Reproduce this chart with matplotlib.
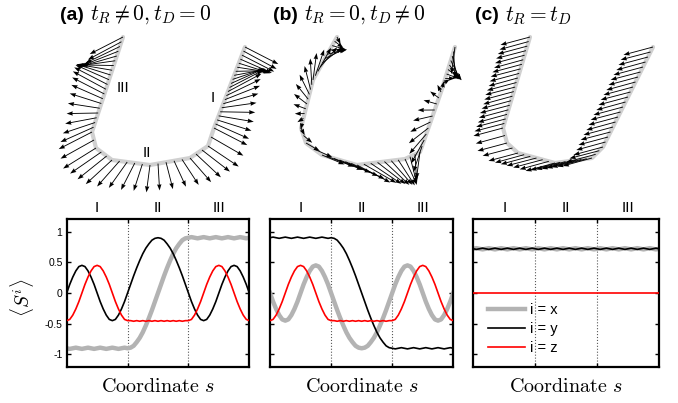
import numpy as np
import matplotlib
matplotlib.use("Agg")
import matplotlib.pyplot as plt

plt.rcParams['font.family'] = ['Liberation Sans', 'DejaVu Sans']
plt.rcParams['mathtext.fontset'] = 'cm'
plt.rcParams['axes.unicode_minus'] = False

# ---------------- data ----------------
s = np.round(np.arange(61) * 0.05, 2)          # coordinate along the wire (3 regions)
region_labels = ['I', 'II', 'III']
region_centers = [0.5, 1.5, 2.5]
yticks = [-1, -0.5, 0, 0.5, 1]
ytick_labels = ['-1', '-0.5', '0', '0.5', '1']
titles_bold = ['(a)', '(b)', '(c)']
titles_math = [r'$t_R \neq 0, t_D = 0$', r'$t_R = 0, t_D \neq 0$', r'$t_R = t_D$']
legend_labels = ['i = x', 'i = y', 'i = z']

# panel (a): t_R != 0, t_D = 0
sx_a = [-0.90, -0.91, -0.90, -0.89, -0.90, -0.91, -0.90, -0.89, -0.90, -0.91, -0.90,
        -0.89, -0.90, -0.91, -0.90, -0.89, -0.90, -0.91, -0.90, -0.89, -0.90,
        -0.89, -0.86, -0.80, -0.73, -0.64, -0.53, -0.41, -0.28, -0.14, 0.00,
        0.14, 0.28, 0.41, 0.53, 0.64, 0.73, 0.80, 0.86, 0.89, 0.90,
        0.91, 0.90, 0.89, 0.90, 0.91, 0.90, 0.89, 0.90, 0.91, 0.90,
        0.89, 0.90, 0.91, 0.90, 0.89, 0.90, 0.91, 0.90, 0.89, 0.90]
sy_a = [0.00, 0.14, 0.26, 0.36, 0.43, 0.45, 0.43, 0.36, 0.26, 0.14, 0.00,
        -0.14, -0.26, -0.36, -0.43, -0.45, -0.43, -0.36, -0.26, -0.14, 0.00,
        0.14, 0.28, 0.41, 0.53, 0.64, 0.73, 0.80, 0.86, 0.89, 0.90,
        0.89, 0.86, 0.80, 0.73, 0.64, 0.53, 0.41, 0.28, 0.14, 0.00,
        -0.14, -0.26, -0.36, -0.43, -0.45, -0.43, -0.36, -0.26, -0.14, 0.00,
        0.14, 0.26, 0.36, 0.43, 0.45, 0.43, 0.36, 0.26, 0.14, 0.00]
sz_a = [-0.45, -0.43, -0.36, -0.26, -0.14, 0.00, 0.14, 0.26, 0.36, 0.43, 0.45,
        0.43, 0.36, 0.26, 0.14, 0.00, -0.14, -0.26, -0.36, -0.43, -0.45,
        -0.45, -0.46, -0.45, -0.46, -0.45, -0.46, -0.45, -0.46, -0.45, -0.46,
        -0.45, -0.46, -0.45, -0.46, -0.45, -0.46, -0.45, -0.46, -0.45, -0.45,
        -0.43, -0.36, -0.26, -0.14, 0.00, 0.14, 0.26, 0.36, 0.43, 0.45,
        0.43, 0.36, 0.26, 0.14, 0.00, -0.14, -0.26, -0.36, -0.43, -0.45]

# panel (b): t_R = 0, t_D != 0
sx_b = [0.00, -0.14, -0.26, -0.36, -0.43, -0.45, -0.43, -0.36, -0.26, -0.14, 0.00,
        0.14, 0.26, 0.36, 0.43, 0.45, 0.43, 0.36, 0.26, 0.14, 0.00,
        -0.14, -0.28, -0.41, -0.53, -0.64, -0.73, -0.80, -0.86, -0.89, -0.90,
        -0.89, -0.86, -0.80, -0.73, -0.64, -0.53, -0.41, -0.28, -0.14, 0.00,
        0.14, 0.26, 0.36, 0.43, 0.45, 0.43, 0.36, 0.26, 0.14, 0.00,
        -0.14, -0.26, -0.36, -0.43, -0.45, -0.43, -0.36, -0.26, -0.14, 0.00]
sy_b = [0.90, 0.91, 0.90, 0.89, 0.90, 0.91, 0.90, 0.89, 0.90, 0.91, 0.90,
        0.89, 0.90, 0.91, 0.90, 0.89, 0.90, 0.91, 0.90, 0.89, 0.90,
        0.89, 0.86, 0.80, 0.73, 0.64, 0.53, 0.41, 0.28, 0.14, 0.00,
        -0.14, -0.28, -0.41, -0.53, -0.64, -0.73, -0.80, -0.86, -0.89, -0.90,
        -0.91, -0.90, -0.89, -0.90, -0.91, -0.90, -0.89, -0.90, -0.91, -0.90,
        -0.89, -0.90, -0.91, -0.90, -0.89, -0.90, -0.91, -0.90, -0.89, -0.90]
sz_b = [-0.45, -0.43, -0.36, -0.26, -0.14, 0.00, 0.14, 0.26, 0.36, 0.43, 0.45,
        0.43, 0.36, 0.26, 0.14, 0.00, -0.14, -0.26, -0.36, -0.43, -0.45,
        -0.45, -0.46, -0.45, -0.46, -0.45, -0.46, -0.45, -0.46, -0.45, -0.46,
        -0.45, -0.46, -0.45, -0.46, -0.45, -0.46, -0.45, -0.46, -0.45, -0.45,
        -0.43, -0.36, -0.26, -0.14, 0.00, 0.14, 0.26, 0.36, 0.43, 0.45,
        0.43, 0.36, 0.26, 0.14, 0.00, -0.14, -0.26, -0.36, -0.43, -0.45]

# panel (c): t_R = t_D
sx_c = [0.72, 0.73, 0.72, 0.71, 0.72, 0.73, 0.72, 0.71, 0.72, 0.73, 0.72,
        0.71, 0.72, 0.73, 0.72, 0.71, 0.72, 0.73, 0.72, 0.71, 0.72,
        0.73, 0.72, 0.71, 0.72, 0.73, 0.72, 0.71, 0.72, 0.73, 0.72,
        0.71, 0.72, 0.73, 0.72, 0.71, 0.72, 0.73, 0.72, 0.71, 0.72,
        0.73, 0.72, 0.71, 0.72, 0.73, 0.72, 0.71, 0.72, 0.73, 0.72,
        0.71, 0.72, 0.73, 0.72, 0.71, 0.72, 0.73, 0.72, 0.71, 0.72]
sy_c = [0.72, 0.71, 0.72, 0.73, 0.72, 0.71, 0.72, 0.73, 0.72, 0.71, 0.72,
        0.73, 0.72, 0.71, 0.72, 0.73, 0.72, 0.71, 0.72, 0.73, 0.72,
        0.71, 0.72, 0.73, 0.72, 0.71, 0.72, 0.73, 0.72, 0.71, 0.72,
        0.73, 0.72, 0.71, 0.72, 0.73, 0.72, 0.71, 0.72, 0.73, 0.72,
        0.71, 0.72, 0.73, 0.72, 0.71, 0.72, 0.73, 0.72, 0.71, 0.72,
        0.73, 0.72, 0.71, 0.72, 0.73, 0.72, 0.71, 0.72, 0.73, 0.72]
sz_c = [0.00] * 61

# wire geometry (projected U-shaped wire, knots along coordinate s)
wire_a_s = [0.0, 1.0, 1.1, 1.25, 1.5, 1.75, 1.9, 2.0, 3.0]
wire_a_x = [245, 214, 208, 190, 150, 112, 96, 92, 123]
wire_a_y = [47, 128, 146, 158, 165, 160, 148, 132, 37]
wire_b_s = [0.0, 0.5, 1.0, 1.15, 1.5, 1.8, 1.9, 2.0, 2.5, 3.0]
wire_b_x = [455, 441, 420, 405, 357, 322, 306, 301, 313, 337]
wire_b_y = [47, 92, 152, 159, 165, 155, 143, 128, 80, 37]
wire_c_s = [0.0, 1.0, 1.15, 1.5, 1.8, 1.9, 2.0, 3.0]
wire_c_x = [653, 603, 592, 555, 518, 507, 503, 530]
wire_c_y = [47, 147, 158, 163, 153, 143, 128, 37]

panels = [
    (sx_a, sy_a, sz_a, wire_a_s, wire_a_x, wire_a_y),
    (sx_b, sy_b, sz_b, wire_b_s, wire_b_x, wire_b_y),
    (sx_c, sy_c, sz_c, wire_c_s, wire_c_x, wire_c_y),
]

# ---------------- figure ----------------
W, H = 678, 403
fig = plt.figure(figsize=(W / 100, H / 100), dpi=100)

# overlay axes in pixel coordinates for the 3D-like spin textures
ax_top = fig.add_axes([0, 0, 1, 1])
ax_top.set_xlim(0, W)
ax_top.set_ylim(H, 0)
ax_top.axis('off')
ax_top.patch.set_alpha(0)

# view projection of spin vector (Sx, Sy, Sz) onto the picture plane (pixels)
PX = (-37.0, -4.0, 0.0)
PY = (0.0, 11.0, -38.0)

for (sx, sy, sz, ws, wx, wy) in panels:
    sx = np.array(sx); sy = np.array(sy); sz = np.array(sz)
    px = np.interp(s, ws, wx)
    py = np.interp(s, ws, wy)
    ax_top.plot(px, py, color='#d0d0d0', lw=3.0, solid_capstyle='round', zorder=1)
    U = PX[0] * sx + PX[1] * sy + PX[2] * sz
    V = PY[0] * sx + PY[1] * sy + PY[2] * sz
    ax_top.quiver(px, py, U, V, angles='xy', scale_units='xy', scale=1,
                  color='k', width=0.0013, headwidth=5, headlength=7,
                  headaxislength=6.5, zorder=2)

# region labels on panel (a) picture
ax_top.text(123, 88, 'III', fontsize=11, ha='center', va='center')
ax_top.text(213, 98, 'I', fontsize=11, ha='center', va='center')
ax_top.text(147, 153, 'II', fontsize=11, ha='center', va='center')

# titles
title_pos = [(60, 15), (273, 15), (475, 15)]
for (tx, ty), tb, tm in zip(title_pos, titles_bold, titles_math):
    t1 = fig.text(tx / W, 1 - ty / H, tb, fontsize=14, fontweight='bold',
                  ha='left', va='center')
    fig.canvas.draw()
    bb = t1.get_window_extent()
    fig.text((bb.x1 + 6) / W, 1 - ty / H, tm, fontsize=15.5, ha='left', va='center')

# bottom line plots
axes_px = [(66.7, 249.3), (270.0, 453.3), (473.3, 659.0)]
top_px, bot_px = 219.3, 366.7
for i, ((x0, x1), (sx, sy, sz, _, _, _)) in enumerate(zip(axes_px, panels)):
    ax = fig.add_axes([x0 / W, (H - bot_px) / H, (x1 - x0) / W, (bot_px - top_px) / H])
    ax.axvline(1, color='0.35', ls=':', lw=0.8, zorder=0)
    ax.axvline(2, color='0.35', ls=':', lw=0.8, zorder=0)
    ax.plot(s, sx, color='#b3b3b3', lw=3.2, label=legend_labels[0], zorder=2)
    ax.plot(s, sy, color='k', lw=1.2, label=legend_labels[1], zorder=3)
    ax.plot(s, sz, color='#ff0000', lw=1.2, label=legend_labels[2], zorder=4)
    ax.set_xlim(0, 3)
    ax.set_ylim(-1.2, 1.2)
    ax.set_xticks([1, 2])
    ax.set_yticks(yticks)
    ax.set_yticklabels(ytick_labels)
    ax.tick_params(direction='in', length=3, width=1, top=True, right=True,
                   labelbottom=False, labelleft=(i == 0), labelsize=7.5, pad=3)
    for sp in ax.spines.values():
        sp.set_linewidth(1.6)
    for c, lab in zip(region_centers, region_labels):
        ax.text(c, 1.075, lab, transform=ax.get_xaxis_transform(),
                fontsize=11, ha='center', va='center')
    ax.text(0.5, -0.135, r'$\mathrm{Coordinate}\ s$', transform=ax.transAxes,
            fontsize=14.5, ha='center', va='center')
    if i == 0:
        ax.text(-0.245, 0.47, r'$\langle S^i \rangle$', transform=ax.transAxes,
                fontsize=14, rotation=90, ha='center', va='center')
    if i == 2:
        ax.legend(loc='lower left', frameon=False, fontsize=10.5, handlelength=2.5,
                  handletextpad=0.35, labelspacing=0.35, borderaxespad=0.0,
                  bbox_to_anchor=(0.05, 0.04))

fig.savefig('out.png', dpi=100)
